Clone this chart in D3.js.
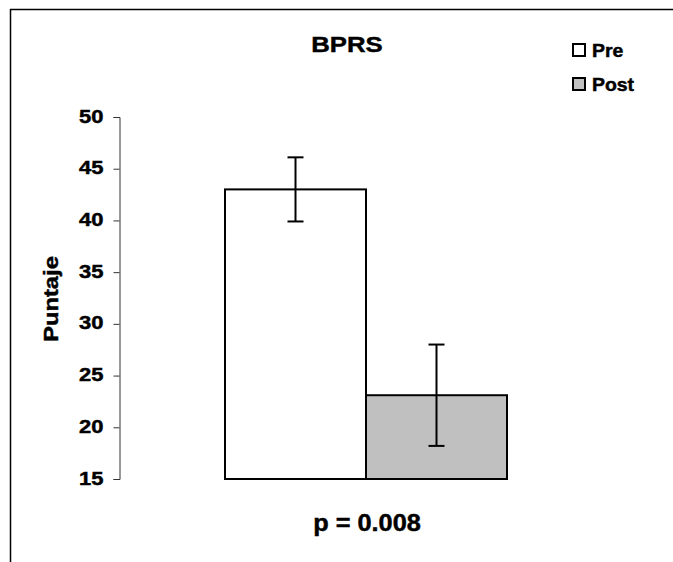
<!DOCTYPE html>
<html><head><meta charset="utf-8">
<script src="https://cdn.jsdelivr.net/npm/d3@7"></script>
<style>body{margin:0;background:#fff}svg{display:block}text{font-family:"Liberation Sans",Arial,sans-serif;font-weight:bold;fill:#000;stroke:#000;stroke-width:0.45px}</style>
</head><body>
<script>
const categories = ["Pre", "Post"];
const means = [43.0, 23.1];
const errors = [3.1, 4.9];
const fills = ["#ffffff", "#c0c0c0"];
const yTicks = [15, 20, 25, 30, 35, 40, 45, 50];
const title = "BPRS";
const yLabel = "Puntaje";
const note = "p = 0.008";

const W = 673, H = 562;
const svg = d3.select("body").append("svg").attr("width", W).attr("height", H);

// horizontal stretch helper (reference glyphs are wider than normal)
function stretch(sel, s) {
  sel.each(function () {
    const t = d3.select(this);
    const x = +t.attr("x") || 0;
    t.attr("x", x / s).attr("transform", ((t.attr("transform") || "") + ` scale(${s},1)`).trim());
  });
}

// frame (top & left visible)
svg.append("line").attr("x1", 10.5).attr("y1", 9).attr("x2", 10.5).attr("y2", H).attr("stroke", "#000").attr("stroke-width", 1.5);
svg.append("line").attr("x1", 10).attr("y1", 9.5).attr("x2", W).attr("y2", 9.5).attr("stroke", "#000").attr("stroke-width", 1.5);

const y = d3.scaleLinear().domain([15, 50]).range([479, 117]);
const x = d3.scaleBand().domain(categories).range([225, 507]).padding(0);

const yAxis = svg.append("g").attr("transform", "translate(119.5,0)")
  .call(d3.axisLeft(y).tickValues(yTicks).tickSize(6).tickPadding(10).tickFormat(d3.format("d")));
yAxis.select(".domain").attr("stroke", "#333");
yAxis.selectAll(".tick line").attr("stroke", "#333");
const tt = yAxis.selectAll(".tick text").style("font-size", "18px").attr("dy", "0.28em");
stretch(tt, 1.22);

svg.selectAll("rect.bar").data(categories).enter().append("rect")
  .attr("class", "bar")
  .attr("x", d => x(d)).attr("width", x.bandwidth())
  .attr("y", (d, i) => y(means[i])).attr("height", (d, i) => y(15) - y(means[i]))
  .attr("fill", (d, i) => fills[i]).attr("stroke", "#000").attr("stroke-width", 2);

const cap = 8;
categories.forEach((c, i) => {
  const cx = x(c) + x.bandwidth() / 2;
  const g = svg.append("g").attr("stroke", "#000").attr("stroke-width", 2);
  g.append("line").attr("x1", cx).attr("x2", cx).attr("y1", y(means[i] + errors[i])).attr("y2", y(means[i] - errors[i]));
  g.append("line").attr("x1", cx - cap).attr("x2", cx + cap).attr("y1", y(means[i] + errors[i])).attr("y2", y(means[i] + errors[i]));
  g.append("line").attr("x1", cx - cap).attr("x2", cx + cap).attr("y1", y(means[i] - errors[i])).attr("y2", y(means[i] - errors[i]));
});

svg.append("text").attr("transform", "translate(347,52) scale(1.12,1)").attr("text-anchor", "middle").style("font-size", "23px").text(title);

svg.append("text").attr("transform", "translate(58,299) rotate(-90) scale(1.13,1)").attr("text-anchor", "middle").style("font-size", "21px").text(yLabel);

svg.append("text").attr("transform", "translate(367,531) scale(1.1,1)").attr("text-anchor", "middle").style("font-size", "23px").text(note);

const leg = svg.append("g");
categories.forEach((c, i) => {
  const ly = 44 + i * 34;
  leg.append("rect").attr("x", 573).attr("y", ly).attr("width", 12).attr("height", 12)
    .attr("fill", fills[i]).attr("stroke", "#000").attr("stroke-width", 2);
  leg.append("text").attr("transform", `translate(592,${ly + 13}) scale(1.08,1)`).style("font-size", "18px").text(c);
});
</script>
</body></html>
